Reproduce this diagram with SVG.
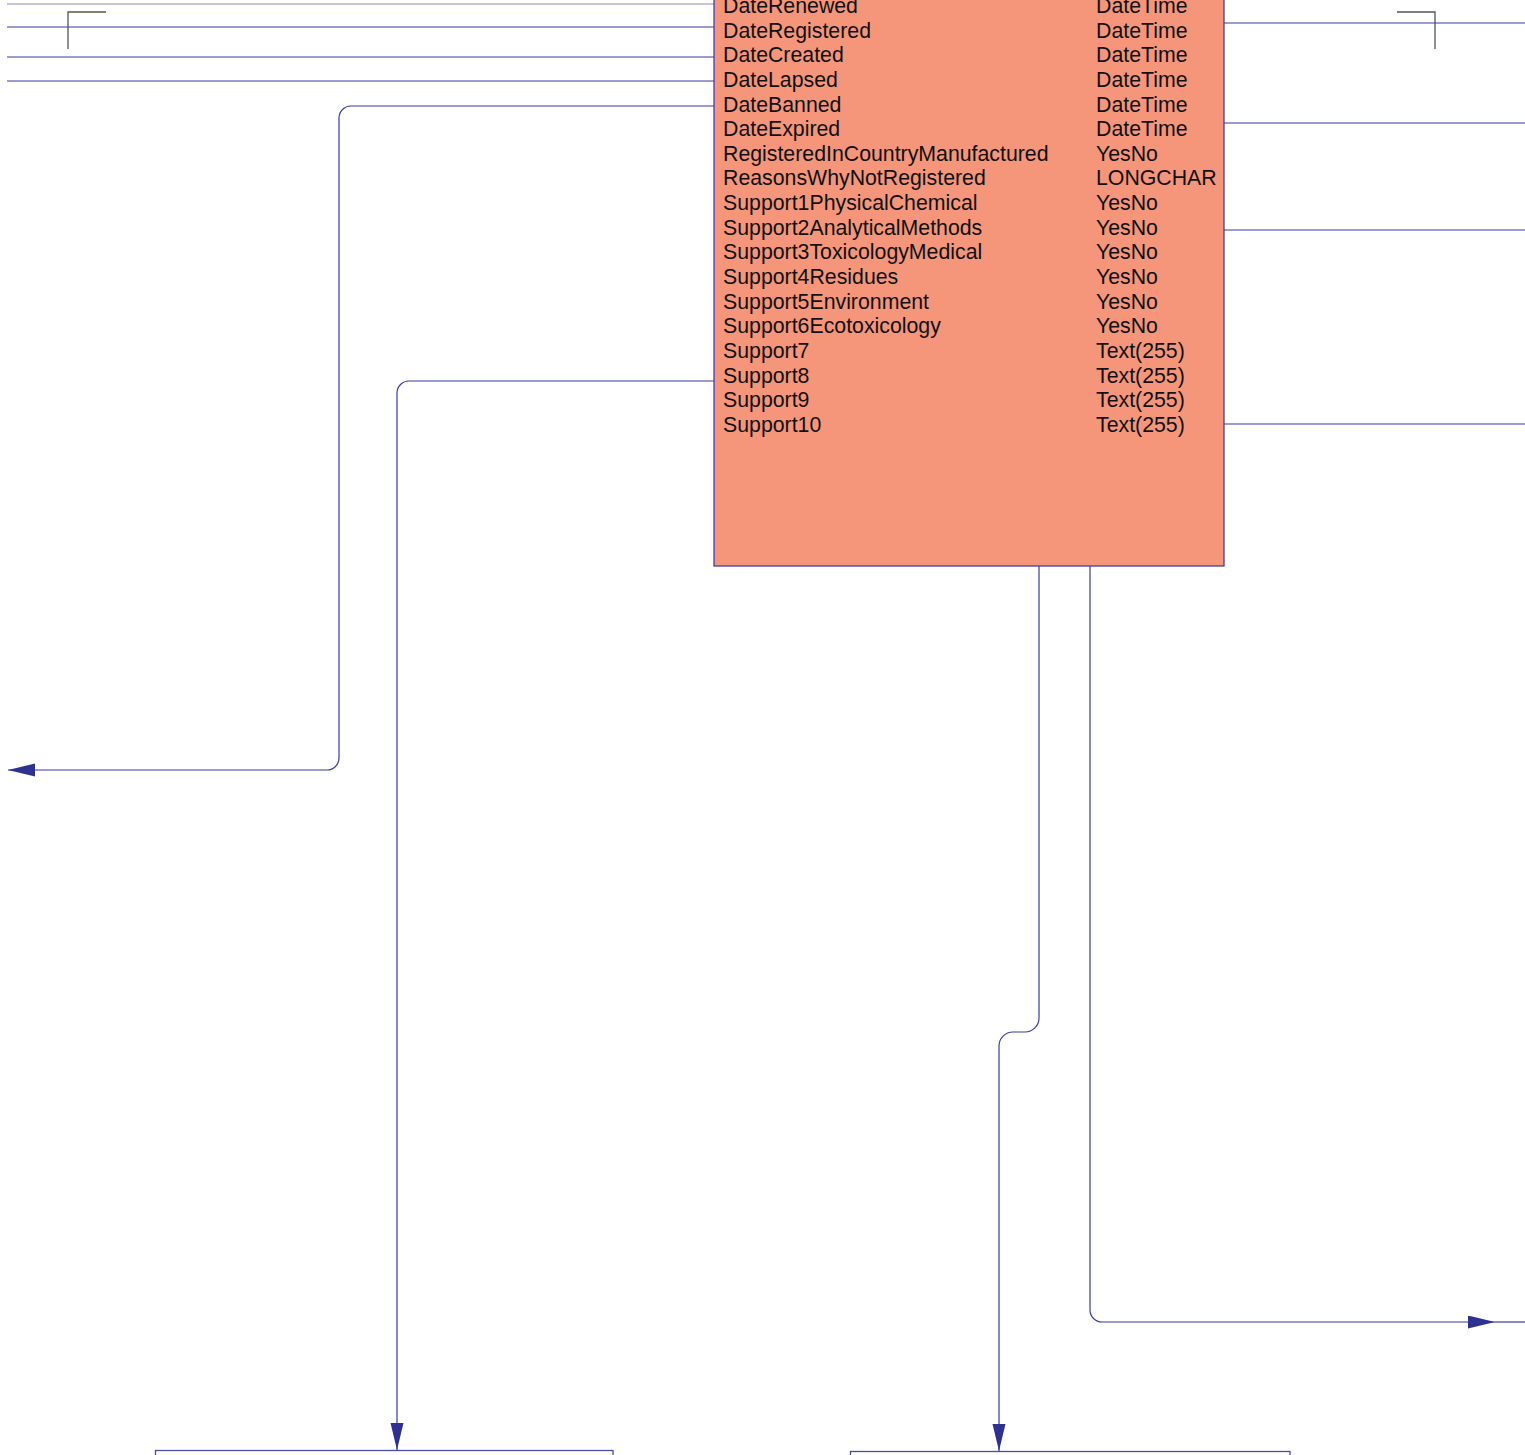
<svg xmlns="http://www.w3.org/2000/svg" width="1525" height="1455" viewBox="0 0 1525 1455">
<style>
.c{fill:none;stroke:#3a3aa6;stroke-width:1.2}
.m{fill:none;stroke:#555;stroke-width:1.3}
.t{font-family:"Liberation Sans",Arial,sans-serif;font-size:21.3px;fill:#111}
.box{fill:#f5967a;stroke:#4040b0;stroke-width:1.3}
.wb{fill:#fff;stroke:#4a4aa8;stroke-width:1.3}
</style>
<defs>
<marker id="ah" markerWidth="28" markerHeight="14" refX="27" refY="6.5" orient="auto" markerUnits="userSpaceOnUse">
<path d="M0,0 L27,6.5 L0,13 Z" fill="#2e3192"/>
</marker>
</defs>
<rect width="1525" height="1455" fill="#fff"/>
<g id="connectors">
<path class="c" d="M7,4 H714" stroke-opacity="0.6"/>
<path class="c" d="M7,27 H714"/>
<path class="c" d="M7,57 H714"/>
<path class="c" d="M7,81 H714"/>
<path class="c" d="M1224,23 H1525"/>
<path class="c" d="M1224,123 H1525"/>
<path class="c" d="M1224,230 H1525"/>
<path class="c" d="M1224,424 H1525"/>
<path class="c" d="M714,106 H351 A12,12 0 0 0 339,118 V758 A12,12 0 0 1 327,770 H8" marker-end="url(#ah)"/>
<path class="c" d="M714,381 H409 A12,12 0 0 0 397,393 V1450" marker-end="url(#ah)"/>
<path class="c" d="M1039,566 V1018 A14,14 0 0 1 1025,1032 H1013 A14,14 0 0 0 999,1046 V1451" marker-end="url(#ah)"/>
<path class="c" d="M1090,566 V1310 A12,12 0 0 0 1102,1322 H1495" marker-end="url(#ah)"/>
<path class="c" d="M1495,1322 H1525"/>
<path class="m" d="M106,12 H68 V49"/>
<path class="m" d="M1397,12 H1435 V49"/>
</g>
<g id="node-main">
<rect class="box" x="714" y="-200" width="510" height="766"/>
<g class="t">
<text x="723" y="12.9">DateRenewed</text><text x="1096" y="12.9">DateTime</text>
<text x="723" y="37.5">DateRegistered</text><text x="1096" y="37.5">DateTime</text>
<text x="723" y="62.2">DateCreated</text><text x="1096" y="62.2">DateTime</text>
<text x="723" y="86.8">DateLapsed</text><text x="1096" y="86.8">DateTime</text>
<text x="723" y="111.5">DateBanned</text><text x="1096" y="111.5">DateTime</text>
<text x="723" y="136.1">DateExpired</text><text x="1096" y="136.1">DateTime</text>
<text x="723" y="160.8">RegisteredInCountryManufactured</text><text x="1096" y="160.8">YesNo</text>
<text x="723" y="185.4">ReasonsWhyNotRegistered</text><text x="1096" y="185.4">LONGCHAR</text>
<text x="723" y="210.1">Support1PhysicalChemical</text><text x="1096" y="210.1">YesNo</text>
<text x="723" y="234.7">Support2AnalyticalMethods</text><text x="1096" y="234.7">YesNo</text>
<text x="723" y="259.4">Support3ToxicologyMedical</text><text x="1096" y="259.4">YesNo</text>
<text x="723" y="284">Support4Residues</text><text x="1096" y="284">YesNo</text>
<text x="723" y="308.7">Support5Environment</text><text x="1096" y="308.7">YesNo</text>
<text x="723" y="333.3">Support6Ecotoxicology</text><text x="1096" y="333.3">YesNo</text>
<text x="723" y="358">Support7</text><text x="1096" y="358">Text(255)</text>
<text x="723" y="382.6">Support8</text><text x="1096" y="382.6">Text(255)</text>
<text x="723" y="407.3">Support9</text><text x="1096" y="407.3">Text(255)</text>
<text x="723" y="431.9">Support10</text><text x="1096" y="431.9">Text(255)</text>
</g>
</g>
<g id="node-bottom-left">
<rect class="wb" x="155.5" y="1450.5" width="457.5" height="30"/>
</g>
<g id="node-bottom-right">
<rect class="wb" x="850.5" y="1451.5" width="439.5" height="30"/>
</g>
</svg>
